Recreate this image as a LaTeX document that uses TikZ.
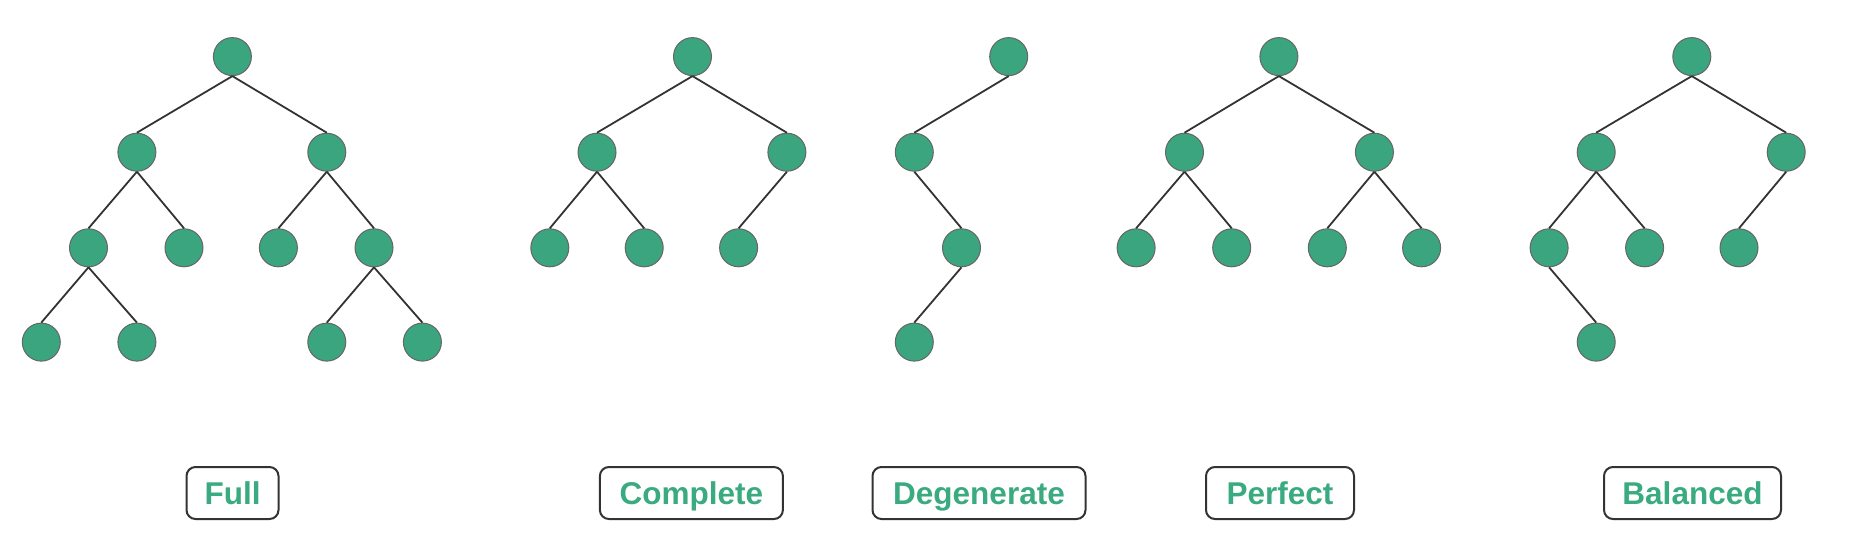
\documentclass[tikz,border=0pt]{standalone}
\usepackage{fontspec}
\setmainfont{Liberation Sans}
\definecolor{nodegreen}{HTML}{3AA57F}
\definecolor{txtgreen}{HTML}{3AAA80}
\definecolor{edgegray}{HTML}{333333}
\begin{document}
\begin{tikzpicture}[x=1pt,y=-1pt,
  tnode/.style={circle,fill=nodegreen,draw=edgegray!75,line width=1pt,minimum size=38pt,inner sep=0pt},
  edge/.style={draw=edgegray,line width=1.8pt},
  lbl/.style={draw=edgegray,line width=2pt,rounded corners=9pt,minimum height=52pt,inner xsep=0pt,
    text height=22.5pt,text depth=0pt,
    text=txtgreen,font=\fontsize{31.5}{34}\selectfont\bfseries}]
\useasboundingbox (0,0) rectangle (1850,544);
% Full
\node[tnode] (f0) at (232.4,56.6) {};
\node[tnode] (f1) at (136.9,152.2) {};
\node[tnode] (f2) at (326.8,152.2) {};
\node[tnode] (f3) at (88.5,247.8) {};
\node[tnode] (f4) at (184.0,247.8) {};
\node[tnode] (f5) at (278.4,247.8) {};
\node[tnode] (f6) at (374.0,247.8) {};
\node[tnode] (f7) at (41.3,342.1) {};
\node[tnode] (f8) at (136.9,342.1) {};
\node[tnode] (f9) at (326.8,342.1) {};
\node[tnode] (f10) at (422.4,342.1) {};
\draw[edge] (f0.south)--(f1.north) (f0.south)--(f2.north) (f1.south)--(f3.north) (f1.south)--(f4.north)
  (f2.south)--(f5.north) (f2.south)--(f6.north)
  (f3.south)--(f7.north) (f3.south)--(f8.north) (f6.south)--(f9.north) (f6.south)--(f10.north);
% Complete
\node[tnode] (c0) at (692.5,56.6) {};
\node[tnode] (c1) at (597.0,152.2) {};
\node[tnode] (c2) at (786.9,152.2) {};
\node[tnode] (c3) at (549.8,247.8) {};
\node[tnode] (c4) at (644.2,247.8) {};
\node[tnode] (c5) at (738.6,247.8) {};
\draw[edge] (c0.south)--(c1.north) (c0.south)--(c2.north) (c1.south)--(c3.north) (c1.south)--(c4.north)
  (c2.south)--(c5.north);
% Degenerate
\node[tnode] (d0) at (1008.7,56.6) {};
\node[tnode] (d1) at (914.3,152.2) {};
\node[tnode] (d2) at (961.5,247.8) {};
\node[tnode] (d3) at (914.3,342.1) {};
\draw[edge] (d0.south)--(d1.north) (d1.south)--(d2.north) (d2.south)--(d3.north);
% Perfect
\node[tnode] (p0) at (1278.9,56.6) {};
\node[tnode] (p1) at (1184.5,152.2) {};
\node[tnode] (p2) at (1374.4,152.2) {};
\node[tnode] (p3) at (1136.1,247.8) {};
\node[tnode] (p4) at (1231.7,247.8) {};
\node[tnode] (p5) at (1327.3,247.8) {};
\node[tnode] (p6) at (1421.6,247.8) {};
\draw[edge] (p0.south)--(p1.north) (p0.south)--(p2.north) (p1.south)--(p3.north) (p1.south)--(p4.north)
  (p2.south)--(p5.north) (p2.south)--(p6.north);
% Balanced
\node[tnode] (b0) at (1691.8,56.6) {};
\node[tnode] (b1) at (1596.2,152.2) {};
\node[tnode] (b2) at (1786.2,152.2) {};
\node[tnode] (b3) at (1549.1,247.8) {};
\node[tnode] (b4) at (1644.6,247.8) {};
\node[tnode] (b5) at (1739.0,247.8) {};
\node[tnode] (b6) at (1596.2,342.1) {};
\draw[edge] (b0.south)--(b1.north) (b0.south)--(b2.north) (b1.south)--(b3.north) (b1.south)--(b4.north)
  (b2.south)--(b5.north) (b3.south)--(b6.north);
% labels
\node[lbl,minimum width=92pt] (lf) at (232.5,493) {Full};
\node[lbl,minimum width=183pt] (lc) at (691.4,493) {Complete};
\node[lbl,minimum width=213pt] (ld) at (979,493) {Degenerate};
\node[lbl,minimum width=148pt] (lp) at (1280,493) {Perfect};
\node[lbl,minimum width=177pt] (lb) at (1692.5,493) {Balanced};
\end{tikzpicture}
\end{document}
